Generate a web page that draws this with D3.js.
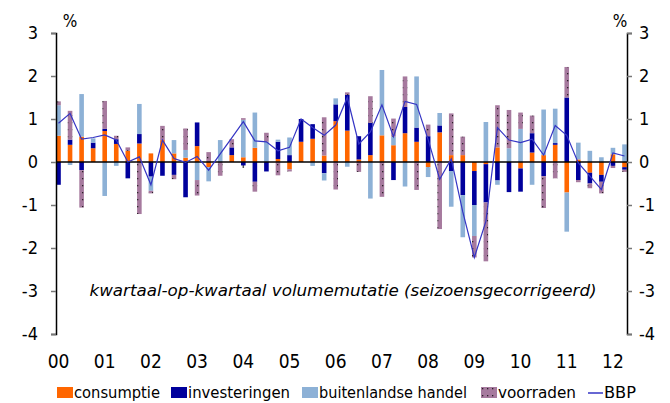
<!DOCTYPE html>
<html>
<head>
<meta charset="utf-8">
<script src="https://cdn.jsdelivr.net/npm/d3@7"></script>
<style>
  body { margin: 0; background: #fff; }
  svg { display: block; font-family: "DejaVu Sans Condensed", "DejaVu Sans", sans-serif; }
</style>
</head>
<body>
<svg id="chart" width="670" height="403"></svg>
<script>
// Quarters 2000Q1 .. 2012Q2, one label per year under the first quarter
var yearLabels = ["00", "01", "02", "03", "04", "05", "06", "07", "08", "09", "10", "11", "12"];
var numQuarters = 50;
var yTicks = [-4, -3, -2, -1, 0, 1, 2, 3];

// Contributions to growth (%-points)
var consumptie = [
  0.61, 0.40, 0.59, 0.32, 0.72, 0.42, 0.26, 0.43,
  0.20, 0.51, 0.20, 0.10, 0.37, -0.12, 0.00, 0.16,
  0.11, 0.33, 0.00, 0.07, -0.17, 0.47, 0.54, 0.15,
  0.95, 0.73, 0.06, 0.16, 0.62, 0.39, 0.67, 0.47,
  -0.12, 0.69, 0.16, 0.16, -0.21, -0.05, 0.34, 0.00,
  -0.15, 0.22, 0.16, 0.40, -0.71, 0.06, -0.25, -0.30,
  0.18, -0.12
];
var investeringen = [
  -0.53, 0.12, -0.19, 0.13, 0.05, 0.11, -0.38, 0.22,
  -0.34, -0.32, -0.30, -0.82, 0.55, 0.00, 0.00, 0.18,
  -0.08, -0.46, -0.22, 0.40, 0.16, 0.53, 0.34, -0.26,
  0.39, 0.83, 0.54, 0.75, 0.00, -0.42, 0.61, 0.33,
  0.60, 0.16, -0.21, -0.77, -0.79, -0.89, -0.43, -0.70,
  -0.54, 0.45, -0.33, 0.04, 1.50, -0.42, -0.25, -0.16,
  -0.09, -0.06
];
var buitenlandseHandel = [
  0.71, -0.07, 0.99, 0.10, -0.79, -0.09, 0.00, 0.70,
  -0.33, 0.00, 0.31, 0.18, -0.42, -0.33, 0.51, 0.00,
  0.87, 0.82, 0.47, 0.05, 0.41, 0.00, -0.09, -0.17,
  0.14, -0.11, 0.00, -0.85, 1.52, 0.20, -0.57, 1.19,
  -0.23, 0.29, -0.83, -0.98, -0.72, 0.93, -0.10, 0.32,
  0.77, -0.53, 1.06, 0.80, -0.91, 0.39, 0.26, 0.11,
  0.15, 0.41
];
var voorraden = [
  0.09, 0.67, -0.87, 0.00, 0.65, 0.08, 0.08, -1.21,
  -0.06, 0.33, -0.10, 0.50, -0.36, 0.23, -0.32, 0.19,
  0.04, -0.23, 0.21, -0.31, -0.05, 0.00, 0.00, 0.89,
  -0.64, 0.06, -0.23, 0.62, -0.81, 0.42, 0.71, -0.65,
  0.27, -1.56, 0.97, 0.43, -0.50, -1.37, 0.98, 0.89,
  0.38, 0.41, -0.74, -0.38, 0.71, -0.05, -0.11, -0.27,
  -0.05, -0.05
];
var bbp = [
  0.90, 1.13, 0.53, 0.57, 0.63, 0.51, 0.00, 0.12,
  -0.53, 0.51, 0.08, -0.01, 0.13, -0.19, 0.19, 0.56,
  0.94, 0.49, 0.47, 0.26, 0.34, 1.00, 0.80, 0.62,
  0.86, 1.50, 0.42, 0.70, 1.33, 0.59, 1.41, 1.34,
  0.52, -0.40, 0.07, -1.16, -2.22, -1.38, 0.80, 0.51,
  0.45, 0.53, 0.16, 0.85, 0.62, -0.02, -0.33, -0.64,
  0.21, 0.14
];

var seriesKeys   = ["consumptie", "investeringen", "buitenlandse handel", "voorraden"];
var seriesFills  = ["#FF6600", "#00009C", "#8DB1D6", "url(#dots)"];
var BBP_COLOR    = "#3434C4";

var svg = d3.select("#chart");

var X_LEFT  = 56;
var X_RIGHT = 627;
var BAR_W   = 4.6;

// Build the table the stack layout wants
var rows = d3.range(numQuarters).map(function (i) {
  return {
    "i": i,
    "consumptie": consumptie[i],
    "investeringen": investeringen[i],
    "buitenlandse handel": buitenlandseHandel[i],
    "voorraden": voorraden[i]
  };
});

var x = d3.scalePoint()
          .domain(d3.range(numQuarters))
          .range([58.5, 624.5]);

var y = d3.scaleLinear()
          .domain([-4, 3])
          .range([334, 33]);

// Dotted fill for the voorraden series
var pat = svg.append("defs")
             .append("pattern")
             .attr("id", "dots")
             .attr("patternUnits", "userSpaceOnUse")
             .attr("width", 5)
             .attr("height", 7);
pat.append("rect")
   .attr("width", 5)
   .attr("height", 7)
   .attr("fill", "#A67A9E");
pat.append("rect")
   .attr("x", 2)
   .attr("y", 3)
   .attr("width", 1.3)
   .attr("height", 1.3)
   .attr("fill", "#2a1f28");

// Year ticks under the zero line (behind bars)
svg.append("g")
   .selectAll("line")
   .data(yearLabels)
   .enter().append("line")
   .attr("x1", function (d, k) { return x(k * 4); })
   .attr("x2", function (d, k) { return x(k * 4); })
   .attr("y1", y(0))
   .attr("y2", y(0) + 6)
   .attr("stroke", "#555")
   .attr("stroke-width", 1.5);

// Stacked bars, positives up and negatives down
var stacked = d3.stack()
                .keys(seriesKeys)
                .offset(d3.stackOffsetDiverging)(rows);

svg.append("g")
   .selectAll("g")
   .data(stacked)
   .enter().append("g")
   .attr("fill", function (d, k) { return seriesFills[k]; })
   .selectAll("rect")
   .data(function (d) { return d; })
   .enter().append("rect")
   .attr("x", function (d) { return x(d.data.i) - BAR_W / 2; })
   .attr("width", BAR_W)
   .attr("y", function (d) { return y(Math.max(d[0], d[1])); })
   .attr("height", function (d) { return Math.abs(y(d[0]) - y(d[1])); });

// Zero line
svg.append("line")
   .attr("x1", X_LEFT)
   .attr("x2", X_RIGHT)
   .attr("y1", y(0))
   .attr("y2", y(0))
   .attr("stroke", "#000")
   .attr("stroke-width", 1.6);

// BBP line
var line = d3.line()
             .x(function (d, i) { return x(i); })
             .y(function (d) { return y(d); });

svg.append("path")
   .datum(bbp)
   .attr("d", line)
   .attr("fill", "none")
   .attr("stroke", BBP_COLOR)
   .attr("stroke-width", 1.2);

// Left and right value axes
var axisLeft = d3.axisLeft(y)
                 .tickValues(yTicks)
                 .tickSize(5)
                 .tickPadding(13)
                 .tickFormat(d3.format("d"));
var axisRight = d3.axisRight(y)
                  .tickValues(yTicks)
                  .tickSize(5)
                  .tickPadding(7)
                  .tickFormat(d3.format("d"));

function style_axis(g) {
  g.select(".domain").attr("stroke", "#000").attr("stroke-width", 1.5);
  g.selectAll(".tick line").attr("stroke", "#777").attr("stroke-width", 1.5);
  g.selectAll(".tick text")
   .attr("fill", "#000")
   .style("font-size", "18px")
   .style("font-family", "\"DejaVu Sans Condensed\", \"DejaVu Sans\", sans-serif")
   .text(function (d) { return d < 0 ? "-" + Math.abs(d) : d; });
}

svg.append("g")
   .attr("transform", "translate(" + X_LEFT + ",0)")
   .call(axisLeft)
   .call(style_axis);

svg.append("g")
   .attr("transform", "translate(" + X_RIGHT + ",0)")
   .call(axisRight)
   .call(style_axis);

// Percent signs
svg.append("text")
   .attr("x", 70)
   .attr("y", 27)
   .attr("text-anchor", "middle")
   .style("font-size", "17px")
   .text("%");
svg.append("text")
   .attr("x", 620)
   .attr("y", 27)
   .attr("text-anchor", "middle")
   .style("font-size", "17px")
   .text("%");

// Year labels
svg.append("g")
   .selectAll("text")
   .data(yearLabels)
   .enter().append("text")
   .attr("x", function (d, k) { return x(k * 4); })
   .attr("y", 368)
   .attr("text-anchor", "middle")
   .style("font-size", "19px")
   .text(function (d) { return d; });

// Subtitle inside plot
svg.append("text")
   .attr("x", 343)
   .attr("y", 296)
   .attr("text-anchor", "middle")
   .attr("textLength", 507)
   .attr("lengthAdjust", "spacingAndGlyphs")
   .style("font-size", "16px")
   .style("font-style", "italic")
   .text("kwartaal-op-kwartaal volumemutatie (seizoensgecorrigeerd)");

// Legend
var legendX = [57, 171, 302, 481];
var legendTextW = [86, 102, 148, 78];
var legend = svg.append("g");

legend.selectAll("rect")
      .data(seriesKeys)
      .enter().append("rect")
      .attr("x", function (d, k) { return legendX[k]; })
      .attr("y", 387)
      .attr("width", 16)
      .attr("height", 11)
      .attr("fill", function (d, k) { return seriesFills[k]; });

legend.selectAll("text")
      .data(seriesKeys.concat(["BBP"]))
      .enter().append("text")
      .attr("x", function (d, k) { return k < 4 ? legendX[k] + 17 : 604; })
      .attr("y", 398)
      .attr("textLength", function (d, k) { return k < 4 ? legendTextW[k] : 32; })
      .attr("lengthAdjust", "spacingAndGlyphs")
      .style("font-size", "16px")
      .text(function (d) { return d; });

legend.append("line")
      .attr("x1", 588)
      .attr("x2", 603)
      .attr("y1", 393)
      .attr("y2", 393)
      .attr("stroke", BBP_COLOR)
      .attr("stroke-width", 1.5);
</script>
</body>
</html>
